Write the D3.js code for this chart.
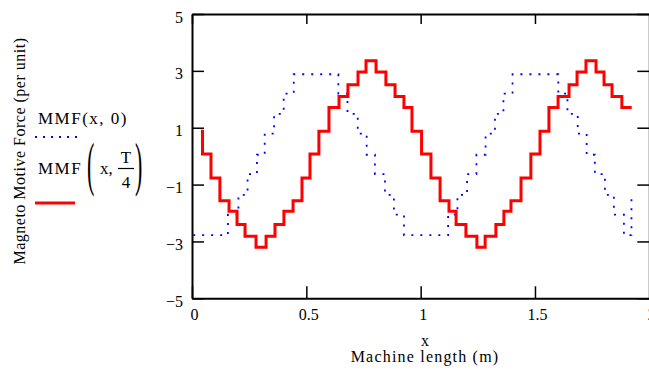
<!DOCTYPE html>
<html>
<head>
<meta charset="utf-8">
<script src="https://cdn.jsdelivr.net/npm/d3@7"></script>
<style>
  html, body { margin: 0; padding: 0; background: #fff; }
  svg { display: block; font-family: "Liberation Serif", "Times New Roman", serif; }
</style>
</head>
<body>
<svg id="chart" width="649" height="370"></svg>
<script>
// Axis ticks
const xTicks = [0, 0.5, 1, 1.5, 2];
const yTicks = [-5, -3, -1, 1, 3, 5];

// MMF(x, 0): position where each step starts (m) and the level it holds (per unit)
const mmf0X = [0.005, 0.157, 0.203, 0.243, 0.284, 0.318, 0.359, 0.401, 0.445,
               0.640, 0.680, 0.725, 0.764, 0.800, 0.844, 0.883, 0.927,
               1.120, 1.161, 1.203, 1.244, 1.284, 1.325, 1.362, 1.402,
               1.602, 1.642, 1.687, 1.726, 1.762, 1.806, 1.845, 1.889, 1.922];
const mmf0Y = [-2.78, -2.06, -1.36, -0.63, 0.05, 0.79, 1.49, 2.2, 2.88,
               2.2, 1.49, 0.79, 0.05, -0.63, -1.36, -2.06, -2.78,
               -2.06, -1.36, -0.63, 0.05, 0.79, 1.49, 2.2, 2.88,
               2.2, 1.49, 0.79, 0.05, -0.63, -1.36, -2.06, -2.78, -1.5];

// MMF(x, T/4): same layout
const mmfQX = [0.039, 0.046, 0.083, 0.122, 0.162, 0.197, 0.232, 0.280, 0.324, 0.363,
               0.402, 0.442, 0.481, 0.516, 0.555, 0.599, 0.643, 0.682, 0.726, 0.761,
               0.805, 0.848, 0.888, 0.927, 0.962, 1.004, 1.045, 1.085, 1.124, 1.155,
               1.198, 1.246, 1.282, 1.329, 1.364, 1.395, 1.439, 1.482, 1.522, 1.561,
               1.601, 1.649, 1.684, 1.723, 1.767, 1.802, 1.837, 1.880, 1.923];
const mmfQY = [0.88, 0.08, -0.77, -1.57, -1.94, -2.4, -2.82, -3.2, -2.82, -2.4,
               -1.94, -1.57, -0.77, 0.08, 0.88, 1.71, 2.1, 2.51, 2.96, 3.36,
               2.96, 2.51, 2.1, 1.71, 0.88, 0.08, -0.77, -1.57, -1.94, -2.4,
               -2.82, -3.2, -2.82, -2.4, -1.94, -1.57, -0.77, 0.08, 0.88, 1.71,
               2.1, 2.51, 2.96, 3.36, 2.96, 2.51, 2.1, 1.71, 1.71];

const svg = d3.select("#chart");
svg.append("rect").attr("width", 649).attr("height", 370).attr("fill", "#fff");

const x = d3.scaleLinear().domain([0, 2]).range([192, 649.3]);
const y = d3.scaleLinear().domain([-5, 5]).range([298.3, 14]);
const fmt = d3.format("");

function styleAxis(g, domainWidth) {
  g.select(".domain").attr("stroke", "#000").attr("stroke-width", domainWidth);
  g.selectAll(".tick line").attr("stroke", "#000").attr("stroke-width", 1.5);
  g.selectAll(".tick text")
    .attr("fill", "#000")
    .style("font-family", "'Liberation Serif', serif")
    .style("font-size", "16px");
}

// Frame: ticks point inwards on all four sides
const gLeft = svg.append("g")
  .attr("transform", `translate(${x(0)},0)`)
  .call(d3.axisLeft(y).tickValues(yTicks).tickSizeInner(-12).tickSizeOuter(0)
        .tickPadding(9).tickFormat(fmt));
styleAxis(gLeft, 2);
gLeft.selectAll(".tick text").attr("dy", "0.5em");

const gBottom = svg.append("g")
  .attr("transform", `translate(0,${y(-5)})`)
  .call(d3.axisBottom(x).tickValues(xTicks).tickSizeInner(-12).tickSizeOuter(0)
        .tickPadding(10).tickFormat(fmt));
styleAxis(gBottom, 2);
gBottom.selectAll(".tick text").attr("dx", "2");

const gTop = svg.append("g")
  .attr("transform", `translate(0,${y(5)})`)
  .call(d3.axisTop(x).tickValues(xTicks).tickSizeInner(-10).tickSizeOuter(0)
        .tickFormat(() => ""));
styleAxis(gTop, 2);

const gRight = svg.append("g")
  .attr("transform", `translate(${x(2)},0)`)
  .call(d3.axisRight(y).tickValues(yTicks).tickSizeInner(-12).tickSizeOuter(0)
        .tickFormat(() => ""));
styleAxis(gRight, 2);

// Series
const stepLine = d3.line()
  .x(d => x(d[0]))
  .y(d => y(d[1]))
  .curve(d3.curveStepAfter);

svg.append("path")
  .datum(d3.zip(mmf0X, mmf0Y))
  .attr("d", stepLine)
  .attr("fill", "none")
  .attr("stroke", "#0000ff")
  .attr("stroke-width", 1.8)
  .attr("stroke-dasharray", "2,7");

svg.append("path")
  .datum(d3.zip(mmfQX, mmfQY))
  .attr("d", stepLine)
  .attr("fill", "none")
  .attr("stroke", "#ff0000")
  .attr("stroke-width", 3);

// Axis titles
svg.append("text")
  .attr("transform", "translate(25,151) rotate(-90)")
  .attr("text-anchor", "middle")
  .style("font-size", "16px")
  .style("letter-spacing", "0.5px")
  .attr("fill", "#000")
  .text("Magneto Motive Force (per unit)");

svg.append("text")
  .attr("x", 425).attr("y", 346)
  .attr("text-anchor", "middle")
  .style("font-size", "16px")
  .attr("fill", "#000")
  .text("x");

svg.append("text")
  .attr("x", 425).attr("y", 362)
  .attr("text-anchor", "middle")
  .style("font-size", "16px")
  .style("letter-spacing", "1.2px")
  .attr("fill", "#000")
  .text("Machine length (m)");

// Legend
const legend = svg.append("g").attr("fill", "#000").style("font-size", "17px");

legend.append("text")
  .attr("x", 38).attr("y", 123.5)
  .style("letter-spacing", "1.5px")
  .text("MMF(x, 0)");

legend.append("line")
  .attr("x1", 35).attr("x2", 77).attr("y1", 137).attr("y2", 137)
  .attr("stroke", "#0000ff").attr("stroke-width", 1.8)
  .attr("stroke-dasharray", "2,6");

legend.append("text")
  .attr("x", 38).attr("y", 174)
  .style("letter-spacing", "1.5px")
  .text("MMF");

legend.append("text")
  .attr("transform", "translate(87,169) scale(1,2.7)")
  .attr("y", 5.6)
  .style("font-size", "22px")
  .text("(");

legend.append("text")
  .attr("x", 100).attr("y", 174)
  .text("x,");

legend.append("text")
  .attr("x", 126).attr("y", 163)
  .attr("text-anchor", "middle")
  .text("T");

legend.append("line")
  .attr("x1", 118).attr("x2", 134).attr("y1", 168.5).attr("y2", 168.5)
  .attr("stroke", "#000").attr("stroke-width", 1.2);

legend.append("text")
  .attr("x", 126).attr("y", 188)
  .attr("text-anchor", "middle")
  .text("4");

legend.append("text")
  .attr("transform", "translate(135,169) scale(1,2.7)")
  .attr("y", 5.6)
  .style("font-size", "22px")
  .text(")");

legend.append("line")
  .attr("x1", 35).attr("x2", 75).attr("y1", 203).attr("y2", 203)
  .attr("stroke", "#ff0000").attr("stroke-width", 3);
</script>
</body>
</html>
